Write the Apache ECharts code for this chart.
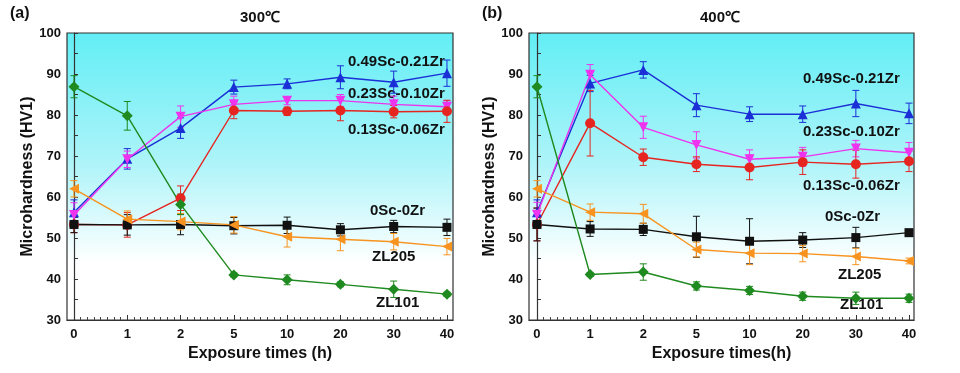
<!DOCTYPE html>
<html><head><meta charset="utf-8">
<script src="https://cdn.jsdelivr.net/npm/echarts@6/dist/echarts.min.js"></script>
<style>html,body{margin:0;padding:0;background:#fff}#c{width:960px;height:373px}</style>
</head><body><div id="c"></div>
<script>
// ---- data ----
var categories = ['0','1','2','5','10','20','30','40'];
var seriesNames = ['0.49Sc-0.21Zr','0.23Sc-0.10Zr','0.13Sc-0.06Zr','0Sc-0Zr','ZL205','ZL101'];
var yTicks = [30,40,50,60,70,80,90,100];

// (a) 300 C
var a_049 = [56.3, 69.3, 76.8, 86.8, 87.6, 89.2, 88.0, 90.2];
var a_023 = [55.6, 69.2, 79.6, 82.6, 83.5, 83.5, 82.6, 82.0];
var a_013 = [53.3, 53.2, 59.7, 81.1, 80.9, 81.1, 80.8, 80.9];
var a_0   = [53.3, 53.2, 53.3, 53.0, 53.1, 52.0, 52.8, 52.6];
var a_zl205 = [62.0, 54.6, 54.0, 53.2, 50.3, 49.7, 49.1, 47.9];
var a_zl101 = [86.9, 79.8, 58.2, 41.0, 39.8, 38.7, 37.5, 36.3];
var a_049_err = [3, 2.5, 2.5, 1.7, 1.2, 2.8, 2.7, 3.2];
var a_023_err = [3, 2, 2.6, 2, 1, 1.5, 2, 1.5];
var a_013_err = [2, 3, 3, 2, 1, 2.5, 1.5, 2.7];
var a_0_err   = [2, 2.5, 2.5, 2, 2, 1.5, 1.5, 2];
var a_zl205_err = [2, 2, 2, 2, 2.5, 2.8, 2, 2];
var a_zl101_err = [2.7, 3.5, 2.5, 0.5, 1.2, 0.6, 2, 0.5];

// (b) 400 C
var b_049 = [56.3, 87.7, 91.0, 82.4, 80.2, 80.2, 82.8, 80.4];
var b_023 = [55.7, 89.8, 77.0, 72.7, 69.2, 69.8, 71.8, 70.8];
var b_013 = [53.3, 78.0, 69.7, 68.0, 67.2, 68.5, 68.0, 68.7];
var b_0   = [53.3, 52.2, 52.1, 50.3, 49.2, 49.5, 50.1, 51.3];
var b_zl205 = [62.0, 56.3, 55.9, 47.2, 46.3, 46.2, 45.5, 44.4];
var b_zl101 = [86.9, 41.1, 41.7, 38.3, 37.2, 35.8, 35.3, 35.3];
var b_049_err = [3, 2, 2, 2.8, 1.8, 2, 3.2, 2.5];
var b_023_err = [3, 2.5, 2.7, 3.2, 2.3, 2.3, 2, 2.5];
var b_013_err = [4, 8, 2, 1.8, 3, 3, 3.4, 2.5];
var b_0_err   = [4, 1.8, 1.5, 5, 5.5, 1.8, 2.5, 0.8];
var b_zl205_err = [2, 2, 2.3, 1.8, 2.8, 2, 2, 0.7];
var b_zl101_err = [2.7, 0.5, 2, 1, 1, 1, 1.5, 1];

// ---- style ----
var FONT = 'Liberation Sans, Arial, sans-serif';
var colors = ['#1a2fd6', '#ee33ee', '#e62420', '#111111', '#f7931e', '#1f8a1f'];
var symbols = ['triangle', 'triangle', 'circle', 'rect', 'triangle', 'diamond'];
var rotates = [0, 180, 0, 0, 90, 0];
var sizes = [10, 10, 10, 9, 10, 11];

var idx = categories.map(function(_, i){ return i; });
var majorTicks = idx.slice();
var minorTicks = [];
for (var i = 0; i < 7; i++) for (var k = 1; k < 8; k++) minorTicks.push(i + k / 8);

function errRender(color){
  return function(params, api){
    var x = api.value(0), y = api.value(1), e = api.value(2);
    var t = api.coord([x, y + e]), b = api.coord([x, y - e]);
    var w = 3.5;
    var st = {stroke: color, lineWidth: 1};
    return {type: 'group', children: [
      {type: 'line', shape: {x1: t[0], y1: t[1], x2: b[0], y2: b[1]}, style: st},
      {type: 'line', shape: {x1: t[0]-w, y1: t[1], x2: t[0]+w, y2: t[1]}, style: st},
      {type: 'line', shape: {x1: b[0]-w, y1: b[1], x2: b[0]+w, y2: b[1]}, style: st}
    ]};
  };
}

var bg = new echarts.graphic.LinearGradient(0, 0, 0, 1, [
  {offset: 0, color: '#62eef5'},
  {offset: 0.45, color: '#adf4f9'},
  {offset: 0.8, color: '#ffffff'},
  {offset: 1, color: '#ffffff'}
]);

var grids = [
  {left: 67, top: 33, width: 386, height: 287, show: true, backgroundColor: bg, borderColor: '#333', borderWidth: 1.2},
  {left: 529, top: 33, width: 385, height: 287, show: true, backgroundColor: bg, borderColor: '#333', borderWidth: 1.2}
];
var xRanges = [[-0.131, 7.113], [-0.15, 7.094]];
var xNames = ['Exposure times (h)', 'Exposure times(h)'];

var xAxes = [], yAxes = [], series = [];
[0, 1].forEach(function(g){
  xAxes.push({
    type: 'value', gridIndex: g, min: xRanges[g][0], max: xRanges[g][1],
    name: xNames[g], nameLocation: 'middle', nameGap: 24,
    nameTextStyle: {fontFamily: FONT, fontWeight: 'bold', fontSize: 16, color: '#111'},
    axisLine: {show: true, lineStyle: {color: '#333', width: 1.2}},
    axisTick: {show: true, inside: true, length: 5, customValues: majorTicks, lineStyle: {color: '#333'}},
    axisLabel: {customValues: majorTicks, formatter: function(v){ return categories[Math.round(v)]; },
      fontFamily: FONT, fontWeight: 'bold', fontSize: 13, color: '#111', margin: 8},
    splitLine: {show: false}
  });
  xAxes.push({
    type: 'value', gridIndex: g, min: xRanges[g][0], max: xRanges[g][1], position: 'bottom',
    axisLine: {show: false},
    axisTick: {show: true, inside: true, length: 3, customValues: minorTicks, lineStyle: {color: '#444'}},
    axisLabel: {show: false}, splitLine: {show: false}
  });
  yAxes.push({
    type: 'value', gridIndex: g, min: 30, max: 100, interval: 10,
    name: 'Microhardness (HV1)', nameLocation: 'middle', nameGap: 31,
    nameTextStyle: {fontFamily: FONT, fontWeight: 'bold', fontSize: 16, color: '#111'},
    axisLine: {show: true, lineStyle: {color: '#333', width: 1.2}},
    axisTick: {show: true, inside: true, length: 4, lineStyle: {color: '#333'}},
    minorTick: {show: true, splitNumber: 2, length: 4, lineStyle: {color: '#333'}},
    axisLabel: {fontFamily: FONT, fontWeight: 'bold', fontSize: 13, color: '#111', margin: 6},
    splitLine: {show: false}
  });
});

var sets = [
  [a_049, a_023, a_013, a_0, a_zl205, a_zl101],
  [b_049, b_023, b_013, b_0, b_zl205, b_zl101]
];
var errs = [
  [a_049_err, a_023_err, a_013_err, a_0_err, a_zl205_err, a_zl101_err],
  [b_049_err, b_023_err, b_013_err, b_0_err, b_zl205_err, b_zl101_err]
];
[0, 1].forEach(function(g){
  sets[g].forEach(function(vals, s){
    series.push({
      type: 'custom', xAxisIndex: g * 2, yAxisIndex: g, z: 2,
      renderItem: errRender(colors[s]),
      encode: {x: 0, y: 1},
      data: vals.map(function(v, i){ return [i, v, errs[g][s][i]]; }),
      silent: true
    });
    series.push({
      type: 'line', name: seriesNames[s], xAxisIndex: g * 2, yAxisIndex: g, z: 3,
      data: vals.map(function(v, i){ return [i, v]; }),
      symbol: symbols[s], symbolRotate: rotates[s], symbolSize: sizes[s],
      lineStyle: {color: colors[s], width: 1.4},
      itemStyle: {color: colors[s]},
      animation: false
    });
  });
});

function label(text, x, y, size, align){
  return {type: 'text', left: x, top: y, style: {text: text, fill: '#111',
    font: 'bold ' + (size || 15) + 'px ' + FONT, textAlign: align || 'left'}};
}
var graphics = [
  label('(a)', 10, 6, 16), label('(b)', 482, 6, 16),
  label('300\u2103', 240, 10, 15), label('400\u2103', 700, 10, 15),
  label('0.49Sc-0.21Zr', 348, 54), label('0.23Sc-0.10Zr', 348, 86), label('0.13Sc-0.06Zr', 348, 122),
  label('0Sc-0Zr', 370, 203), label('ZL205', 372, 249), label('ZL101', 376, 295),
  label('0.49Sc-0.21Zr', 803, 71), label('0.23Sc-0.10Zr', 803, 124), label('0.13Sc-0.06Zr', 803, 178),
  label('0Sc-0Zr', 825, 209), label('ZL205', 838, 267), label('ZL101', 840, 297)
];

var chart = echarts.init(document.getElementById('c'), null, {renderer: 'canvas'});
chart.setOption({
  animation: false,
  grid: grids, xAxis: xAxes, yAxis: yAxes, series: series, graphic: graphics
});
</script></body></html>
